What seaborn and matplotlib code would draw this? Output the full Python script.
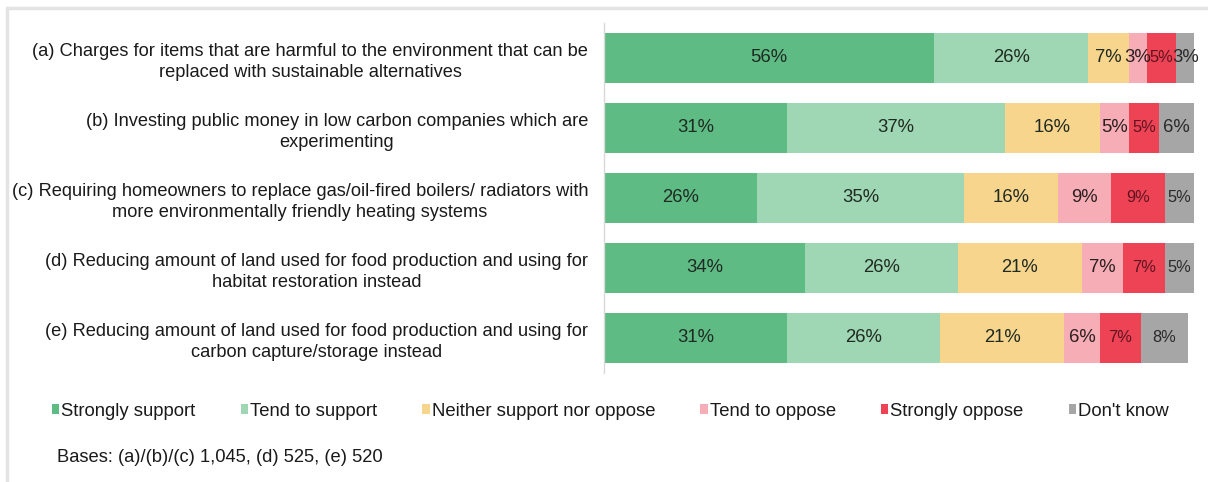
import numpy as np
import pandas as pd
import matplotlib
matplotlib.use("Agg")
import matplotlib.pyplot as plt
from matplotlib.patches import Patch
from matplotlib.lines import Line2D
import seaborn as sns

# Survey items (row labels, top to bottom)
statements = [
    "(a) Charges for items that are harmful to the environment that can be\nreplaced with sustainable alternatives",
    "(b) Investing public money in low carbon companies which are\nexperimenting",
    "(c) Requiring homeowners to replace gas/oil-fired boilers/ radiators with\nmore environmentally friendly heating systems",
    "(d) Reducing amount of land used for food production and using for\nhabitat restoration instead",
    "(e) Reducing amount of land used for food production and using for\ncarbon capture/storage instead",
]

responses = ["Strongly support", "Tend to support", "Neither support nor oppose",
             "Tend to oppose", "Strongly oppose", "Don't know"]

# Percentages per response, one value per statement (a)-(e)
strongly_support = [56, 31, 26, 34, 31]
tend_support = [26, 37, 35, 26, 26]
neither = [7, 16, 16, 21, 21]
tend_oppose = [3, 5, 9, 7, 6]
strongly_oppose = [5, 5, 9, 7, 7]
dont_know = [3, 6, 5, 5, 8]

series = [strongly_support, tend_support, neither, tend_oppose, strongly_oppose, dont_know]
colors = ["#5fbb84", "#9fd6b3", "#f7d58d", "#f6adb5", "#ee4255", "#a6a6a6"]
label_colors = ["#1f2a22", "#1f2a22", "#1f2a22", "#2a1f20", "#5c1520", "#2a2a2a"]

base_note = "Bases: (a)/(b)/(c) 1,045, (d) 525, (e) 520"

sns.set_theme(style="white")
plt.rcParams["font.family"] = ["Liberation Sans", "DejaVu Sans"]

values = np.array(series, dtype=float)          # shape (6, 5)
cum = np.cumsum(values, axis=0)

df = pd.DataFrame({"statement": statements})
for i, r in enumerate(responses):
    df[r] = cum[i]

fig = plt.figure(figsize=(12.08, 4.82), dpi=100)
ax = fig.add_axes([604 / 1208, 1 - 373 / 482, (1194 - 604) / 1208, 350 / 482])

# Stacked bars: draw cumulative totals from the outermost segment inward
for i in range(len(responses) - 1, -1, -1):
    sns.barplot(data=df, x=responses[i], y="statement", orient="y",
                color=colors[i], width=0.714, linewidth=0, saturation=1,
                ax=ax)

# Segment value labels
for i in range(len(responses)):
    for j in range(len(statements)):
        v = values[i, j]
        xc = cum[i, j] - v / 2
        size = 13.3
        if i == 4 or (i == 5 and j > 1):
            size = 11.8
        ax.text(xc, j, f"{int(v)}%", ha="center", va="center",
                fontsize=size, color=label_colors[i])

ax.set_xlim(0, 100)
ax.set_ylim(len(statements) - 0.5, -0.5)
ax.set_xlabel("")
ax.set_ylabel("")
ax.set_xticks([])
ax.tick_params(axis="y", length=0, pad=11.5, labelsize=13.15, labelcolor="#1a1a1a")
for lbl in ax.get_yticklabels():
    lbl.set_multialignment("center")
    lbl.set_linespacing(1.3)
for s in ["top", "right", "bottom"]:
    ax.spines[s].set_visible(False)
ax.spines["left"].set_color("#d9d9d9")
ax.spines["left"].set_linewidth(1.0)

# Legend row
handles = [Patch(facecolor=c, edgecolor="none", label=r) for c, r in zip(colors, responses)]
fig.legend(handles=handles, loc="center left", bbox_to_anchor=(52 / 1208, 1 - 411 / 482),
           ncol=6, frameon=False, fontsize=13.3, handlelength=0.4, handleheight=0.4,
           handletextpad=0.1, columnspacing=2.45, borderaxespad=0, borderpad=0,
           labelcolor="#1a1a1a")

fig.text(57 / 1208, 1 - 458 / 482, base_note, ha="left", va="center",
         fontsize=13.2, color="#1a1a1a")

# Light frame along the top and left edges
fig.add_artist(Line2D([7 / 1208, 1], [1 - 8 / 482, 1 - 8 / 482], transform=fig.transFigure,
                      color="#e4e4e4", linewidth=2.5))
fig.add_artist(Line2D([7 / 1208, 7 / 1208], [0, 1 - 8 / 482], transform=fig.transFigure,
                      color="#e4e4e4", linewidth=2.5))

fig.savefig("out.png", dpi=100, facecolor="white")
